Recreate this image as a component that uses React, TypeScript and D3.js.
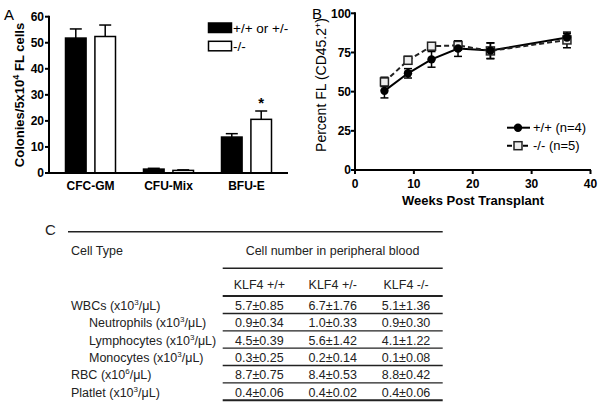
import React from 'react';
import * as d3 from 'd3';

// Panel A data
const categories = ['CFC-GM', 'CFU-Mix', 'BFU-E'];
const seriesA = ['+/+ or +/-', '-/-'];
const meanWT = [51.8, 1.5, 13.8];
const errWT = [3.5, 0.3, 1.3];
const meanKO = [52.4, 1.0, 20.6];
const errKO = [4.4, 0.2, 3.2];
const yTicksA = [0, 10, 20, 30, 40, 50, 60];

// Panel B data
const weeks = [5, 9, 13, 17.5, 23, 36];
const pctWT = [50.5, 61.7, 70.6, 77.5, 76.2, 84.5];
const pctWTErr = [4.5, 3, 5, 5, 5, 2.5];
const pctKO = [56.2, 70, 79, 79.5, 76, 83];
const pctKOErr = [3, 2.5, 2, 3, 5, 5];
const xTicksB = [0, 10, 20, 30, 40];
const yTicksB = [0, 25, 50, 75, 100];
const seriesB = ['+/+ (n=4)', '-/- (n=5)'];

// Panel C data
const rowNames = ['WBCs', 'Neutrophils', 'Lymphocytes', 'Monocytes', 'RBC', 'Platlet'];
const rowExp = ['3', '3', '3', '3', '6', '3'];
const rowIndent = [0, 1, 1, 1, 0, 0];
const genotypes = ['KLF4 +/+', 'KLF4 +/-', 'KLF4 -/-'];
const valsWT = ['5.7±0.85', '0.9±0.34', '4.5±0.39', '0.3±0.25', '8.7±0.75', '0.4±0.06'];
const valsHet = ['6.7±1.76', '1.0±0.33', '5.6±1.42', '0.2±0.14', '8.4±0.53', '0.4±0.02'];
const valsKO = ['5.1±1.36', '0.9±0.30', '4.1±1.22', '0.1±0.08', '8.8±0.42', '0.4±0.06'];

const F = 'Liberation Sans, Arial, sans-serif';

function PanelA() {
  const y = d3.scaleLinear().domain([0, 60]).range([173, 16.7]);
  const x0 = d3.scaleBand().domain(categories).range([51.5, 285.5]);
  const x1 = d3.scaleBand().domain(seriesA).range([14, 64]).paddingInner(0.3);
  const means = [meanWT, meanKO];
  const errs = [errWT, errKO];
  const bw = x1.bandwidth();
  return (
    <g>
      <text x={4} y={20} fontFamily={F} fontSize={15}>A</text>
      {categories.map((c, i) =>
        seriesA.map((s, j) => {
          const bx = x0(c)! + x1(s)!;
          const cx = bx + bw / 2;
          const top = y(means[j][i]);
          const et = y(means[j][i] + errs[j][i]);
          return (
            <g key={c + s}>
              <line x1={cx} x2={cx} y1={top} y2={et} stroke="#000" strokeWidth={1.5} />
              <line x1={cx - 6} x2={cx + 6} y1={et} y2={et} stroke="#000" strokeWidth={1.5} />
              <rect x={bx} y={top} width={bw} height={y(0) - top} fill={j === 0 ? '#000' : '#fff'} stroke="#000" strokeWidth={1.5} />
            </g>
          );
        })
      )}
      <text x={x0('BFU-E')! + x1('-/-')! + bw / 2} y={108} textAnchor="middle" fontFamily={F} fontWeight="bold" fontSize={15}>*</text>
      <line x1={49} x2={49} y1={y(60) - 1} y2={y(0) + 1} stroke="#000" strokeWidth={2} />
      <line x1={48} x2={288} y1={y(0)} y2={y(0)} stroke="#000" strokeWidth={2} />
      {yTicksA.map(t => (
        <g key={t}>
          <line x1={45} x2={49} y1={y(t)} y2={y(t)} stroke="#000" strokeWidth={2} />
          <text x={44} y={y(t) + 4.2} textAnchor="end" fontFamily={F} fontWeight="bold" fontSize={12}>{t}</text>
        </g>
      ))}
      {categories.map(c => (
        <text key={c} x={x0(c)! + x0.bandwidth() / 2} y={190} textAnchor="middle" fontFamily={F} fontWeight="bold" fontSize={12}>{c}</text>
      ))}
      <text transform="translate(24,95) rotate(-90)" textAnchor="middle" fontFamily={F} fontWeight="bold" fontSize={13}>
        Colonies/5x10<tspan dy={-5} fontSize={9}>4</tspan><tspan dy={5}> FL cells</tspan>
      </text>
      {seriesA.map((s, j) => (
        <g key={s}>
          <rect x={208.5} y={23 + j * 18.3} width={23} height={9.5} fill={j === 0 ? '#000' : '#fff'} stroke="#000" strokeWidth={1.5} />
          <text x={233} y={32.5 + j * 18.3} fontFamily={F} fontSize={13.5}>{s}</text>
        </g>
      ))}
    </g>
  );
}

function PanelB() {
  const x = d3.scaleLinear().domain([0, 40]).range([355, 590.5]);
  const y = d3.scaleLinear().domain([0, 100]).range([170, 13.3]);
  const line = d3.line<number>().x((_, i) => x(weeks[i])).y(d => y(d));
  const sets = [
    { v: pctWT, e: pctWTErr, dash: undefined as string | undefined, circle: true },
    { v: pctKO, e: pctKOErr, dash: '5,3', circle: false },
  ];
  return (
    <g>
      <text x={312} y={19} fontFamily={F} fontSize={15}>B</text>
      {sets.map((s, k) => (
        <g key={k}>
          <path d={line(s.v)!} fill="none" stroke={k === 0 ? '#000' : '#222'} strokeWidth={2} strokeDasharray={s.dash} />
          {s.v.map((v, i) => (
            <g key={i}>
              <line x1={x(weeks[i])} x2={x(weeks[i])} y1={y(v - s.e[i])} y2={y(v + s.e[i])} stroke="#000" strokeWidth={1.5} />
              <line x1={x(weeks[i]) - 4} x2={x(weeks[i]) + 4} y1={y(v - s.e[i])} y2={y(v - s.e[i])} stroke="#000" strokeWidth={1.5} />
              <line x1={x(weeks[i]) - 4} x2={x(weeks[i]) + 4} y1={y(v + s.e[i])} y2={y(v + s.e[i])} stroke="#000" strokeWidth={1.5} />
            </g>
          ))}
        </g>
      ))}
      {pctKO.map((v, i) => (
        <rect key={'s' + i} x={x(weeks[i]) - 4} y={y(v) - 4} width={8} height={8} fill="#eee" stroke="#222" strokeWidth={1.5} />
      ))}
      {pctWT.map((v, i) => (
        <circle key={'c' + i} cx={x(weeks[i])} cy={y(v)} r={4.2} fill="#000" />
      ))}
      <line x1={355} x2={355} y1={y(100) - 1} y2={y(0) + 1} stroke="#000" strokeWidth={2} />
      <line x1={354} x2={591} y1={y(0)} y2={y(0)} stroke="#000" strokeWidth={2} />
      {yTicksB.map(t => (
        <g key={t}>
          <line x1={351} x2={355} y1={y(t)} y2={y(t)} stroke="#000" strokeWidth={2} />
          <text x={351} y={y(t) + 4.2} textAnchor="end" fontFamily={F} fontWeight="bold" fontSize={12}>{t}</text>
        </g>
      ))}
      {xTicksB.map(t => (
        <g key={t}>
          <line x1={x(t)} x2={x(t)} y1={170} y2={174} stroke="#000" strokeWidth={2} />
          <text x={x(t)} y={188} textAnchor="middle" fontFamily={F} fontWeight="bold" fontSize={12}>{t}</text>
        </g>
      ))}
      <text x={473} y={205} textAnchor="middle" fontFamily={F} fontWeight="bold" fontSize={13}>Weeks Post Transplant</text>
      <text transform="translate(326,85) rotate(-90)" textAnchor="middle" fontFamily={F} fontSize={14}>
        Percent FL  (CD45.2<tspan dy={-5} fontSize={9}>+</tspan><tspan dy={5}>)</tspan>
      </text>
      {seriesB.map((s, j) => (
        <g key={s}>
          <line x1={507} x2={530} y1={127.7 + j * 18} y2={127.7 + j * 18} stroke="#000" strokeWidth={2} strokeDasharray={j === 1 ? '5,3' : undefined} />
          {j === 0 ? (
            <circle cx={518} cy={127.7} r={4.2} fill="#000" />
          ) : (
            <rect x={514} y={141.7} width={8} height={8} fill="#eee" stroke="#222" strokeWidth={1.5} />
          )}
          <text x={533} y={132.2 + j * 18} fontFamily={F} fontSize={13}>{s}</text>
        </g>
      ))}
    </g>
  );
}

function PanelC() {
  const col = d3.scaleBand().domain(genotypes).range([222.7, 442.7]);
  const row = d3.scaleLinear().domain([0, 5]).range([310, 396.7]);
  const vals = [valsWT, valsHet, valsKO];
  const fs = 12.5;
  const c = '#222';
  return (
    <g fontFamily={F} fill={c}>
      <text x={45} y={235} fontSize={15} fontWeight={300}>C</text>
      <line x1={68} x2={442.7} y1={231.7} y2={231.7} stroke={c} strokeWidth={1.5} />
      <text x={71} y={255} fontSize={fs}>Cell Type</text>
      <text x={332.5} y={255} fontSize={fs} textAnchor="middle">Cell number in peripheral blood</text>
      <line x1={222.7} x2={442.7} y1={268.3} y2={268.3} stroke={c} strokeWidth={1.5} />
      {genotypes.map(g => (
        <text key={g} x={col(g)! + col.bandwidth() / 2} y={288.5} fontSize={fs} textAnchor="middle">{g}</text>
      ))}
      <line x1={222.7} x2={442.7} y1={296} y2={296} stroke={c} strokeWidth={2} />
      {rowNames.map((n, i) => (
        <g key={n}>
          <text x={rowIndent[i] ? 89 : 71} y={row(i)} fontSize={fs}>
            {n} (x10<tspan dy={-5} fontSize={8}>{rowExp[i]}</tspan><tspan dy={5}>/μL)</tspan>
          </text>
          {genotypes.map((g, k) => (
            <text key={g} x={col(g)! + col.bandwidth() / 2} y={row(i)} fontSize={fs} textAnchor="middle">{vals[k][i]}</text>
          ))}
          <line x1={222.7} x2={442.7} y1={row(i) + 3.5} y2={row(i) + 3.5} stroke={c} strokeWidth={i === 5 ? 2 : 1.3} />
        </g>
      ))}
    </g>
  );
}

export default function App() {
  return (
    <svg width={602} height={407} style={{ position: 'absolute', left: 0, top: 0, background: '#fff' }}>
      <rect width={602} height={407} fill="#fff" />
      <PanelA />
      <PanelB />
      <PanelC />
    </svg>
  );
}
